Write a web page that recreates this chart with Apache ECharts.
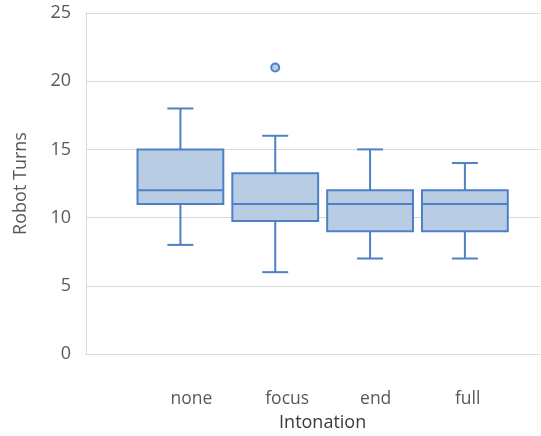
<!DOCTYPE html>
<html>
<head>
<meta charset="utf-8">
<script src="https://cdn.jsdelivr.net/npm/echarts@6/dist/echarts.min.js"></script>
<style>html,body{margin:0;padding:0;background:#fff}#c{width:541px;height:436px}</style>
</head>
<body>
<div id="c"></div>
<script>
const categories = ['none', 'focus', 'end', 'full'];
const whiskerLow = [8, 6, 7, 7];
const q1 = [11, 9.75, 9, 9];
const median = [12, 11, 11, 11];
const q3 = [15, 13.25, 12, 12];
const whiskerHigh = [18, 16, 15, 14];
const outlierCategory = [1];
const outlierValue = [21];
const yMin = 0, yMax = 25, yStep = 5;

const STROKE = '#4E80C5';
const FILL = '#B8CCE4';
const FONT = 'Open Sans';

const boxData = categories.map((c, i) => [i, whiskerLow[i], q1[i], median[i], q3[i], whiskerHigh[i]]);
const outlierData = outlierCategory.map((c, i) => [c, outlierValue[i]]);

const chart = echarts.init(document.getElementById('c'), null, {renderer: 'canvas'});
const hiddenY = (gi) => ({type: 'value', gridIndex: gi, min: yMin, max: yMax, interval: yStep, show: false});

chart.setOption({
  animation: false,
  grid: [
    {left: 86, right: 1, top: 13, bottom: 82, containLabel: false, outerBoundsMode: 'none'},
    {left: 133, right: 28.7, top: 13, bottom: 82, containLabel: false, outerBoundsMode: 'none'},
    {left: 123, right: 38.7, top: 13, bottom: 82, containLabel: false, outerBoundsMode: 'none'}
  ],
  xAxis: [
    {type: 'value', gridIndex: 0, min: 0, max: 1, axisLine: {show: true, lineStyle: {color: '#D9D9D9', width: 1}},
     axisTick: {show: false}, axisLabel: {show: false}, splitLine: {show: false}},
    {type: 'category', gridIndex: 1, data: categories, axisLine: {show: false}, axisTick: {show: false},
     axisLabel: {show: false}, name: 'Intonation', nameLocation: 'middle', nameGap: 60,
     nameTextStyle: {fontFamily: FONT, fontSize: 18, color: '#3A3A3A'}},
    {type: 'category', gridIndex: 2, data: categories, axisLine: {show: false}, axisTick: {show: false},
     axisLabel: {align: 'left', margin: 36, fontFamily: FONT, fontSize: 17.5, color: '#595959'}}
  ],
  yAxis: [
    {type: 'value', gridIndex: 0, min: yMin, max: yMax, interval: yStep,
     axisLine: {show: true, lineStyle: {color: '#D9D9D9', width: 1}}, axisTick: {show: false},
     axisLabel: {margin: 15, fontFamily: FONT, fontSize: 18, color: '#595959'},
     splitLine: {lineStyle: {color: '#D9D9D9', width: 1}},
     name: 'Robot Turns', nameLocation: 'middle', nameGap: 56,
     nameTextStyle: {fontFamily: FONT, fontSize: 18, color: '#595959'}},
    hiddenY(1),
    hiddenY(2)
  ],
  series: [
    {
      type: 'custom', xAxisIndex: 1, yAxisIndex: 1, data: boxData,
      renderItem: function (params, api) {
        const cat = api.value(0);
        const pLo = api.coord([cat, api.value(1)]);
        const pQ1 = api.coord([cat, api.value(2)]);
        const pMed = api.coord([cat, api.value(3)]);
        const pQ3 = api.coord([cat, api.value(4)]);
        const pHi = api.coord([cat, api.value(5)]);
        const band = api.size([1, 0])[0];
        const bw = band * 0.905;
        const cap = 26;
        const cx = pMed[0];
        const ls = {stroke: STROKE, lineWidth: 2, fill: null};
        return {
          type: 'group',
          children: [
            {type: 'line', shape: {x1: cx, y1: pQ3[1], x2: cx, y2: pHi[1]}, style: ls},
            {type: 'line', shape: {x1: cx - cap / 2, y1: pHi[1], x2: cx + cap / 2, y2: pHi[1]}, style: ls},
            {type: 'line', shape: {x1: cx, y1: pQ1[1], x2: cx, y2: pLo[1]}, style: ls},
            {type: 'line', shape: {x1: cx - cap / 2, y1: pLo[1], x2: cx + cap / 2, y2: pLo[1]}, style: ls},
            {type: 'rect', shape: {x: cx - bw / 2, y: pQ3[1], width: bw, height: pQ1[1] - pQ3[1]},
             style: {fill: FILL, stroke: STROKE, lineWidth: 2}},
            {type: 'line', shape: {x1: cx - bw / 2, y1: pMed[1], x2: cx + bw / 2, y2: pMed[1]}, style: ls}
          ]
        };
      }
    },
    {
      type: 'scatter', xAxisIndex: 1, yAxisIndex: 1, data: outlierData,
      symbol: 'circle', symbolSize: 8,
      itemStyle: {color: FILL, borderColor: STROKE, borderWidth: 2, opacity: 1}
    }
  ]
});
</script>
</body>
</html>
